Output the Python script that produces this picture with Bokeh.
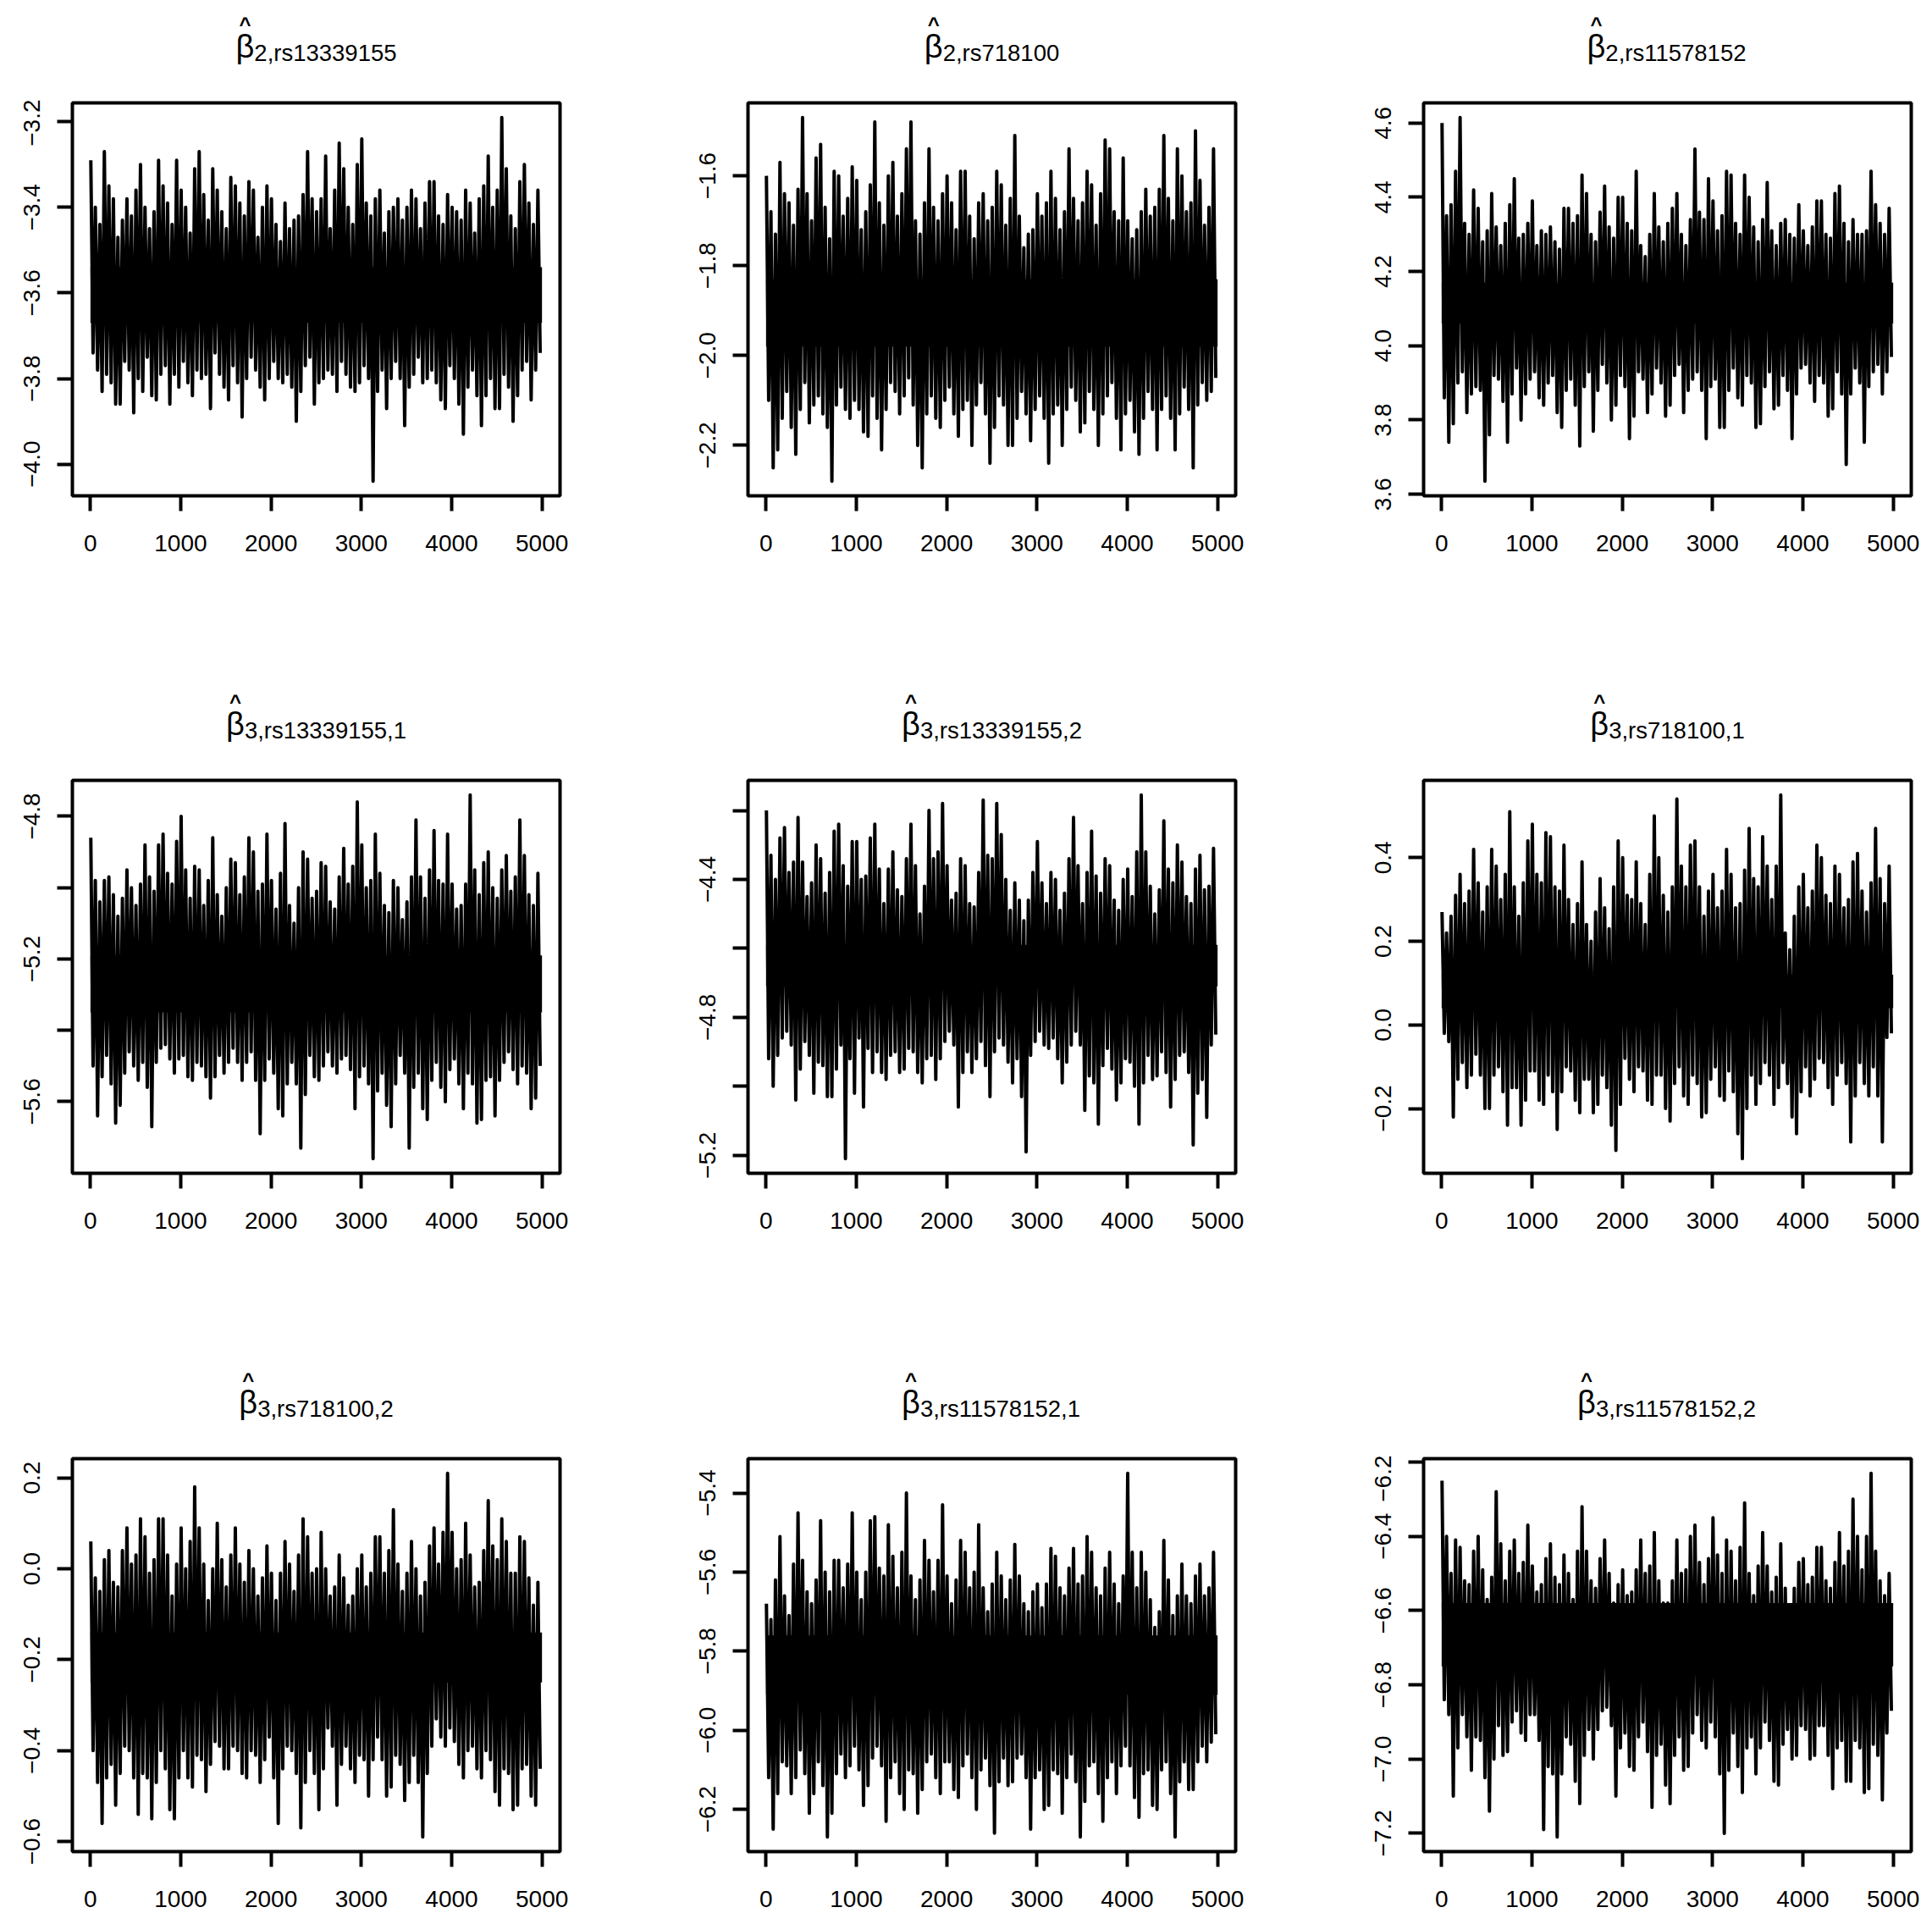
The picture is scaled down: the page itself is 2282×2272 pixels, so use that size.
import numpy as np
from bokeh.plotting import figure
from bokeh.models import Range1d, FixedTicker, CustomJSTickFormatter
from bokeh.layouts import column, row
from bokeh.core.properties import value
from bokeh.embed import file_html
from bokeh.resources import INLINE

# ---------------- data ----------------
n_iter = 5000
block = 100
x_ticks = [0, 1000, 2000, 3000, 4000, 5000]

subscripts = ["2,rs13339155", "2,rs718100", "2,rs11578152",
              "3,rs13339155,1", "3,rs13339155,2", "3,rs718100,1",
              "3,rs718100,2", "3,rs11578152,1", "3,rs11578152,2"]

# per 100-iteration block: largest up / down excursion (hi, lo)
# and a second, smaller excursion in the same block (hi2, lo2)
p1_hi = [-3.29,-3.27,-3.35,-3.43,-3.38,-3.30,-3.40,-3.29,-3.35,-3.29,
         -3.36,-3.31,-3.27,-3.31,-3.36,-3.33,-3.35,-3.34,-3.36,-3.35,
         -3.38,-3.39,-3.45,-3.37,-3.27,-3.38,-3.28,-3.25,-3.31,-3.30,
         -3.24,-3.38,-3.36,-3.40,-3.38,-3.36,-3.38,-3.34,-3.34,-3.37,
         -3.40,-3.36,-3.39,-3.35,-3.28,-3.19,-3.31,-3.34,-3.30,-3.36]
p1_lo = [-3.78,-3.83,-3.86,-3.86,-3.88,-3.80,-3.84,-3.85,-3.86,-3.79,
         -3.81,-3.84,-3.79,-3.87,-3.82,-3.85,-3.89,-3.80,-3.82,-3.85,
         -3.80,-3.81,-3.90,-3.83,-3.86,-3.81,-3.79,-3.83,-3.82,-3.83,
         -3.80,-4.04,-3.87,-3.80,-3.91,-3.82,-3.81,-3.80,-3.85,-3.87,
         -3.86,-3.93,-3.84,-3.91,-3.87,-3.87,-3.90,-3.84,-3.85,-3.78]
p1_hi2 = [-3.40,-3.44,-3.38,-3.47,-3.42,-3.36,-3.45,-3.41,-3.39,-3.44,
          -3.40,-3.46,-3.37,-3.43,-3.41,-3.45,-3.39,-3.42,-3.47,-3.40,
          -3.44,-3.48,-3.43,-3.42,-3.38,-3.41,-3.45,-3.36,-3.40,-3.44,
          -3.39,-3.42,-3.46,-3.41,-3.43,-3.40,-3.45,-3.39,-3.42,-3.44,
          -3.41,-3.43,-3.46,-3.38,-3.40,-3.36,-3.42,-3.45,-3.39,-3.44]
p1_lo2 = [-3.74,-3.79,-3.81,-3.76,-3.78,-3.83,-3.75,-3.79,-3.77,-3.82,
          -3.76,-3.78,-3.80,-3.74,-3.79,-3.77,-3.81,-3.75,-3.78,-3.80,
          -3.76,-3.79,-3.82,-3.77,-3.75,-3.80,-3.78,-3.76,-3.79,-3.81,
          -3.77,-3.83,-3.78,-3.76,-3.80,-3.79,-3.75,-3.78,-3.81,-3.77,
          -3.80,-3.82,-3.78,-3.84,-3.80,-3.79,-3.82,-3.78,-3.76,-3.74]
p1_core = [-3.67, -3.54]

p2_hi = [-1.60,-1.57,-1.64,-1.63,-1.47,-1.56,-1.53,-1.59,-1.60,-1.58,
         -1.61,-1.62,-1.48,-1.60,-1.57,-1.54,-1.48,-1.66,-1.54,-1.64,
         -1.60,-1.59,-1.59,-1.66,-1.64,-1.59,-1.62,-1.51,-1.69,-1.72,
         -1.64,-1.59,-1.65,-1.54,-1.65,-1.59,-1.62,-1.52,-1.54,-1.56,
         -1.70,-1.68,-1.63,-1.63,-1.51,-1.54,-1.60,-1.50,-1.61,-1.54]
p2_lo = [-2.25,-2.21,-2.16,-2.22,-2.15,-2.11,-2.16,-2.28,-2.12,-2.14,
         -2.17,-2.18,-2.21,-2.12,-2.13,-2.09,-2.20,-2.25,-2.14,-2.16,
         -2.13,-2.18,-2.20,-2.11,-2.24,-2.16,-2.20,-2.20,-2.13,-2.19,
         -2.14,-2.24,-2.20,-2.12,-2.17,-2.15,-2.20,-2.13,-2.14,-2.21,
         -2.17,-2.22,-2.12,-2.21,-2.14,-2.21,-2.12,-2.25,-2.10,-2.08]
p2_hi2 = [-1.68,-1.73,-1.66,-1.71,-1.64,-1.70,-1.67,-1.74,-1.69,-1.65,
          -1.72,-1.68,-1.66,-1.71,-1.69,-1.64,-1.70,-1.73,-1.67,-1.70,
          -1.66,-1.72,-1.69,-1.74,-1.70,-1.67,-1.71,-1.65,-1.76,-1.73,
          -1.69,-1.66,-1.72,-1.68,-1.70,-1.66,-1.71,-1.64,-1.68,-1.70,
          -1.74,-1.72,-1.69,-1.67,-1.65,-1.70,-1.68,-1.66,-1.71,-1.67]
p2_lo2 = [-2.10,-2.14,-2.08,-2.12,-2.06,-2.09,-2.13,-2.11,-2.07,-2.10,
          -2.12,-2.09,-2.14,-2.06,-2.08,-2.05,-2.11,-2.13,-2.09,-2.10,
          -2.07,-2.12,-2.10,-2.06,-2.13,-2.09,-2.11,-2.14,-2.08,-2.12,
          -2.09,-2.13,-2.11,-2.07,-2.10,-2.08,-2.12,-2.09,-2.06,-2.13,
          -2.10,-2.14,-2.08,-2.12,-2.09,-2.13,-2.07,-2.11,-2.06,-2.05]
p2_core = [-1.98, -1.83]

p3_hi = [4.60,4.47,4.615,4.42,4.37,4.41,4.32,4.38,4.45,4.33,
         4.39,4.30,4.32,4.37,4.37,4.46,4.41,4.36,4.43,4.40,
         4.40,4.47,4.27,4.41,4.32,4.37,4.41,4.34,4.53,4.45,
         4.39,4.47,4.46,4.46,4.40,4.34,4.44,4.33,4.34,4.38,
         4.31,4.39,4.39,4.41,4.43,4.34,4.30,4.47,4.38,4.37]
p3_lo = [3.74,3.79,3.82,3.87,3.635,3.76,3.85,3.74,3.80,3.87,
         3.86,3.84,3.82,3.78,3.84,3.73,3.77,3.88,3.80,3.84,
         3.75,3.81,3.82,3.87,3.81,3.84,3.82,3.88,3.88,3.75,
         3.78,3.78,3.86,3.84,3.78,3.79,3.83,3.84,3.75,3.87,
         3.90,3.85,3.81,3.83,3.68,3.87,3.74,3.89,3.87,3.93]
p3_hi2 = [4.35,4.38,4.33,4.30,4.28,4.31,4.27,4.33,4.29,4.30,
          4.27,4.31,4.28,4.26,4.33,4.35,4.30,4.28,4.32,4.29,
          4.33,4.31,4.24,4.30,4.28,4.33,4.30,4.27,4.36,4.34,
          4.31,4.35,4.33,4.30,4.32,4.28,4.31,4.27,4.30,4.29,
          4.27,4.32,4.30,4.29,4.33,4.28,4.30,4.31,4.33,4.30]
p3_lo2 = [3.86,3.90,3.93,3.89,3.88,3.92,3.91,3.87,3.94,3.91,
          3.93,3.90,3.92,3.88,3.91,3.89,3.93,3.95,3.90,3.92,
          3.89,3.93,3.91,3.94,3.90,3.92,3.95,3.91,3.93,3.89,
          3.91,3.88,3.94,3.92,3.90,3.89,3.93,3.92,3.88,3.94,
          3.95,3.92,3.90,3.93,3.87,3.94,3.90,3.93,3.95,3.97]
p3_core = [4.06, 4.17]

p4_hi = [-4.86,-4.98,-4.97,-5.03,-4.95,-4.99,-4.88,-4.88,-4.85,-4.87,
         -4.80,-4.94,-4.95,-4.86,-5.02,-4.92,-4.93,-4.86,-4.90,-4.85,
         -4.98,-4.82,-5.05,-4.90,-4.92,-4.93,-4.94,-4.97,-4.89,-4.76,
         -4.88,-4.85,-4.96,-4.98,-5.00,-4.97,-4.81,-4.95,-4.84,-4.85,
         -4.99,-4.99,-4.74,-4.93,-4.90,-4.95,-4.91,-4.81,-4.91,-4.96]
p4_lo = [-5.64,-5.53,-5.66,-5.61,-5.50,-5.54,-5.67,-5.49,-5.48,-5.52,
         -5.53,-5.54,-5.53,-5.59,-5.52,-5.49,-5.54,-5.49,-5.69,-5.54,
         -5.62,-5.64,-5.55,-5.73,-5.53,-5.54,-5.50,-5.52,-5.51,-5.62,
         -5.55,-5.76,-5.61,-5.67,-5.52,-5.73,-5.62,-5.65,-5.56,-5.60,
         -5.55,-5.62,-5.66,-5.65,-5.64,-5.54,-5.51,-5.55,-5.62,-5.59]
p4_hi2 = [-4.98,-5.04,-5.02,-5.08,-5.00,-5.05,-4.97,-5.01,-4.96,-4.99,
          -4.95,-5.03,-5.05,-4.98,-5.08,-5.00,-5.02,-4.97,-5.01,-4.99,
          -5.06,-4.96,-5.10,-5.00,-5.03,-5.01,-5.04,-5.06,-4.99,-4.94,
          -5.00,-4.98,-5.05,-5.07,-5.09,-5.04,-4.97,-5.03,-4.98,-4.99,
          -5.06,-5.05,-4.95,-5.02,-5.00,-5.03,-5.01,-4.97,-5.02,-5.05]
p4_lo2 = [-5.50,-5.47,-5.55,-5.52,-5.46,-5.49,-5.56,-5.45,-5.44,-5.48,
          -5.47,-5.49,-5.50,-5.53,-5.47,-5.45,-5.49,-5.46,-5.54,-5.48,
          -5.52,-5.55,-5.49,-5.58,-5.47,-5.50,-5.46,-5.48,-5.47,-5.53,
          -5.50,-5.57,-5.52,-5.55,-5.47,-5.56,-5.52,-5.54,-5.49,-5.51,
          -5.48,-5.52,-5.55,-5.54,-5.53,-5.49,-5.46,-5.50,-5.52,-5.50]
p4_core = [-5.35, -5.19]

p5_hi = [-4.20,-4.28,-4.25,-4.22,-4.35,-4.30,-4.34,-4.26,-4.24,-4.29,
         -4.29,-4.28,-4.24,-4.37,-4.32,-4.34,-4.24,-4.42,-4.20,-4.18,
         -4.36,-4.34,-4.36,-4.38,-4.17,-4.18,-4.27,-4.41,-4.46,-4.38,
         -4.29,-4.38,-4.40,-4.34,-4.22,-4.38,-4.26,-4.34,-4.36,-4.40,
         -4.37,-4.155,-4.32,-4.43,-4.23,-4.30,-4.35,-4.37,-4.33,-4.31]
p5_lo = [-5.00,-4.91,-4.88,-5.04,-4.91,-5.02,-5.03,-5.03,-5.21,-4.92,
         -5.06,-4.89,-4.96,-4.98,-4.96,-4.95,-4.96,-4.99,-4.98,-4.92,
         -4.88,-5.06,-4.96,-4.92,-5.03,-4.90,-4.93,-4.99,-5.19,-4.91,
         -4.88,-4.89,-4.99,-4.93,-4.88,-5.07,-5.11,-4.94,-5.04,-4.99,
         -5.00,-5.11,-4.98,-4.97,-5.06,-4.98,-4.96,-5.17,-5.09,-4.88]
p5_hi2 = [-4.33,-4.40,-4.38,-4.35,-4.45,-4.41,-4.44,-4.38,-4.36,-4.42,
          -4.40,-4.39,-4.37,-4.47,-4.43,-4.45,-4.36,-4.50,-4.34,-4.32,
          -4.46,-4.44,-4.47,-4.48,-4.33,-4.34,-4.40,-4.49,-4.52,-4.46,
          -4.41,-4.47,-4.49,-4.44,-4.36,-4.47,-4.39,-4.44,-4.46,-4.49,
          -4.45,-4.32,-4.42,-4.50,-4.37,-4.41,-4.45,-4.47,-4.43,-4.42]
p5_lo2 = [-4.92,-4.86,-4.84,-4.95,-4.87,-4.93,-4.94,-4.95,-4.88,-5.02,
          -4.86,-4.96,-4.90,-4.91,-4.90,-4.89,-4.90,-4.92,-4.91,-4.87,
          -4.84,-4.96,-4.90,-4.87,-4.94,-4.86,-4.88,-4.92,-5.03,-4.87,
          -4.84,-4.86,-4.92,-4.88,-4.84,-4.97,-4.99,-4.89,-4.95,-4.92,
          -4.93,-4.99,-4.91,-4.90,-4.96,-4.91,-4.90,-5.02,-4.98,-4.85]
p5_core = [-4.71, -4.59]

p6_hi = [0.27,0.31,0.36,0.42,0.34,0.42,0.38,0.51,0.33,0.44,
         0.48,0.46,0.45,0.43,0.30,0.39,0.24,0.35,0.28,0.44,
         0.40,0.39,0.29,0.50,0.40,0.33,0.54,0.43,0.44,0.32,
         0.36,0.42,0.36,0.37,0.47,0.45,0.38,0.55,0.22,0.33,
         0.36,0.43,0.40,0.38,0.36,0.39,0.41,0.34,0.47,0.38]
p6_lo = [-0.04,-0.22,-0.15,-0.12,-0.20,-0.20,-0.16,-0.24,-0.24,-0.18,
         -0.18,-0.19,-0.25,-0.16,-0.18,-0.21,-0.21,-0.19,-0.24,-0.30,
         -0.13,-0.16,-0.18,-0.19,-0.20,-0.23,-0.17,-0.19,-0.22,-0.21,
         -0.17,-0.18,-0.26,-0.32,-0.19,-0.14,-0.19,-0.15,-0.22,-0.26,
         -0.17,-0.13,-0.15,-0.19,-0.14,-0.28,-0.14,-0.17,-0.28,-0.03]
p6_hi2 = [0.22,0.26,0.29,0.32,0.27,0.33,0.30,0.36,0.26,0.34,
          0.36,0.34,0.33,0.32,0.24,0.29,0.20,0.27,0.23,0.33,
          0.31,0.30,0.24,0.36,0.31,0.27,0.38,0.33,0.33,0.26,
          0.28,0.32,0.28,0.29,0.35,0.33,0.30,0.38,0.18,0.26,
          0.28,0.32,0.31,0.29,0.28,0.30,0.32,0.27,0.35,0.29]
p6_lo2 = [-0.02,-0.13,-0.09,-0.07,-0.12,-0.12,-0.10,-0.15,-0.15,-0.11,
          -0.11,-0.12,-0.16,-0.10,-0.11,-0.13,-0.13,-0.12,-0.15,-0.19,
          -0.08,-0.10,-0.11,-0.12,-0.12,-0.14,-0.10,-0.12,-0.14,-0.13,
          -0.10,-0.11,-0.16,-0.20,-0.12,-0.09,-0.12,-0.09,-0.14,-0.16,
          -0.10,-0.08,-0.09,-0.12,-0.09,-0.17,-0.09,-0.10,-0.17,-0.02]
p6_core = [0.04, 0.12]

p7_hi = [0.06,0.02,0.04,0.04,0.09,0.11,0.07,0.11,0.11,0.01,
         0.09,0.18,0.09,0.00,0.10,0.03,0.09,0.04,0.00,0.05,
         -0.01,0.06,0.01,0.11,0.07,0.08,0.00,0.03,-0.02,0.00,
         0.03,0.07,0.07,0.13,0.01,0.06,0.00,0.05,0.09,0.21,
         0.08,0.10,0.03,0.04,0.15,0.11,0.06,0.07,0.06,-0.03]
p7_lo = [-0.47,-0.56,-0.52,-0.45,-0.46,-0.54,-0.55,-0.47,-0.53,-0.55,
         -0.46,-0.48,-0.49,-0.43,-0.44,-0.44,-0.45,-0.46,-0.47,-0.42,
         -0.56,-0.44,-0.45,-0.57,-0.45,-0.53,-0.39,-0.52,-0.44,-0.47,
         -0.50,-0.42,-0.50,-0.48,-0.51,-0.47,-0.59,-0.45,-0.37,-0.39,
         -0.43,-0.46,-0.44,-0.46,-0.49,-0.52,-0.53,-0.52,-0.50,-0.52]
p7_hi2 = [-0.02,-0.05,-0.03,-0.04,0.01,0.03,-0.01,0.02,0.03,-0.06,
          0.00,0.06,0.01,-0.07,0.02,-0.04,0.01,-0.03,-0.06,-0.02,
          -0.07,-0.01,-0.05,0.03,-0.01,0.00,-0.06,-0.04,-0.08,-0.06,
          -0.04,-0.01,-0.01,0.04,-0.05,-0.01,-0.06,-0.03,0.01,0.08,
          0.00,0.02,-0.04,-0.03,0.05,0.02,-0.01,-0.01,-0.02,-0.08]
p7_lo2 = [-0.40,-0.46,-0.43,-0.39,-0.40,-0.45,-0.46,-0.40,-0.44,-0.46,
          -0.40,-0.41,-0.42,-0.38,-0.39,-0.39,-0.40,-0.40,-0.41,-0.37,
          -0.46,-0.39,-0.40,-0.47,-0.40,-0.44,-0.35,-0.43,-0.39,-0.41,
          -0.42,-0.37,-0.42,-0.41,-0.43,-0.41,-0.47,-0.39,-0.33,-0.35,
          -0.38,-0.40,-0.39,-0.40,-0.42,-0.44,-0.45,-0.44,-0.43,-0.44]
p7_core = [-0.25, -0.14]

p8_hi = [-5.68,-5.51,-5.66,-5.45,-5.57,-5.62,-5.47,-5.57,-5.57,-5.45,
         -5.60,-5.47,-5.46,-5.48,-5.56,-5.40,-5.61,-5.52,-5.57,-5.43,
         -5.61,-5.52,-5.55,-5.48,-5.64,-5.55,-5.61,-5.53,-5.61,-5.65,
         -5.63,-5.54,-5.56,-5.59,-5.54,-5.51,-5.55,-5.59,-5.55,-5.61,
         -5.35,-5.55,-5.60,-5.70,-5.52,-5.66,-5.58,-5.61,-5.58,-5.55]
p8_lo = [-6.25,-6.16,-6.16,-6.12,-6.21,-6.16,-6.27,-6.21,-6.12,-6.09,
         -6.19,-6.14,-6.09,-6.23,-6.16,-6.20,-6.21,-6.15,-6.12,-6.16,
         -6.15,-6.17,-6.12,-6.20,-6.14,-6.26,-6.14,-6.13,-6.12,-6.25,
         -6.20,-6.19,-6.21,-6.12,-6.27,-6.18,-6.16,-6.23,-6.16,-6.09,
         -6.17,-6.22,-6.19,-6.20,-6.16,-6.27,-6.15,-6.15,-6.08,-6.03]
p8_hi2 = [-5.72,-5.62,-5.71,-5.58,-5.65,-5.68,-5.60,-5.65,-5.64,-5.58,
          -5.67,-5.60,-5.59,-5.61,-5.64,-5.55,-5.67,-5.62,-5.65,-5.57,
          -5.68,-5.62,-5.64,-5.60,-5.70,-5.63,-5.67,-5.62,-5.68,-5.70,
          -5.69,-5.63,-5.64,-5.66,-5.63,-5.61,-5.64,-5.66,-5.63,-5.68,
          -5.55,-5.64,-5.67,-5.74,-5.62,-5.71,-5.66,-5.68,-5.66,-5.64]
p8_lo2 = [-6.12,-6.08,-6.09,-6.05,-6.11,-6.08,-6.14,-6.11,-6.06,-6.04,
          -6.10,-6.07,-6.04,-6.12,-6.08,-6.10,-6.11,-6.08,-6.06,-6.08,
          -6.08,-6.09,-6.06,-6.10,-6.07,-6.13,-6.07,-6.07,-6.06,-6.12,
          -6.10,-6.10,-6.11,-6.06,-6.13,-6.09,-6.08,-6.12,-6.08,-6.04,
          -6.09,-6.11,-6.10,-6.10,-6.08,-6.13,-6.08,-6.08,-6.04,-6.01]
p8_core = [-5.91, -5.76]

p9_hi = [-6.25,-6.41,-6.43,-6.44,-6.40,-6.51,-6.28,-6.44,-6.41,-6.37,
         -6.48,-6.46,-6.42,-6.45,-6.50,-6.32,-6.44,-6.46,-6.41,-6.53,
         -6.49,-6.49,-6.41,-6.39,-6.52,-6.52,-6.41,-6.40,-6.37,-6.46,
         -6.35,-6.41,-6.44,-6.31,-6.50,-6.39,-6.48,-6.42,-6.54,-6.47,
         -6.46,-6.43,-6.43,-6.47,-6.39,-6.30,-6.40,-6.23,-6.44,-6.50]
p9_lo = [-6.88,-7.10,-6.94,-7.03,-7.05,-7.14,-6.99,-6.98,-6.93,-6.95,
         -6.95,-7.19,-7.21,-7.04,-7.06,-7.12,-7.00,-6.92,-6.91,-7.10,
         -7.02,-7.03,-6.98,-7.13,-7.07,-7.12,-7.03,-7.02,-6.95,-6.97,
         -7.04,-7.20,-7.02,-7.09,-7.04,-6.97,-7.06,-7.07,-7.00,-6.99,
         -7.00,-6.99,-6.99,-7.08,-7.06,-7.06,-7.09,-7.08,-7.11,-6.93]
p9_hi2 = [-6.40,-6.50,-6.52,-6.53,-6.49,-6.57,-6.42,-6.52,-6.50,-6.47,
          -6.55,-6.53,-6.51,-6.53,-6.57,-6.44,-6.52,-6.54,-6.50,-6.58,
          -6.56,-6.55,-6.50,-6.48,-6.58,-6.58,-6.50,-6.49,-6.47,-6.53,
          -6.45,-6.50,-6.52,-6.43,-6.56,-6.48,-6.55,-6.51,-6.59,-6.54,
          -6.53,-6.51,-6.52,-6.54,-6.48,-6.44,-6.49,-6.40,-6.52,-6.56]
p9_lo2 = [-6.84,-6.97,-6.88,-6.94,-6.95,-7.00,-6.91,-6.90,-6.87,-6.88,
          -6.88,-7.02,-7.04,-6.94,-6.96,-6.99,-6.92,-6.87,-6.86,-6.97,
          -6.93,-6.94,-6.90,-6.99,-6.96,-6.99,-6.94,-6.93,-6.88,-6.90,
          -6.94,-7.03,-6.93,-6.97,-6.94,-6.90,-6.95,-6.96,-6.92,-6.91,
          -6.92,-6.91,-6.91,-6.97,-6.95,-6.95,-6.97,-6.96,-6.99,-6.87]
p9_core = [-6.75, -6.58]

# y-axis ticks and the ticks that carry a label
p1_yticks = [-4.0, -3.8, -3.6, -3.4, -3.2]
p2_yticks = [-2.2, -2.0, -1.8, -1.6]
p3_yticks = [3.6, 3.8, 4.0, 4.2, 4.4, 4.6]
p4_yticks = [-5.6, -5.4, -5.2, -5.0, -4.8]
p4_ylabeled = [-5.6, -5.2, -4.8]
p5_yticks = [-5.2, -5.0, -4.8, -4.6, -4.4, -4.2]
p5_ylabeled = [-5.2, -4.8, -4.4]
p6_yticks = [-0.2, 0.0, 0.2, 0.4]
p7_yticks = [-0.6, -0.4, -0.2, 0.0, 0.2]
p8_yticks = [-6.2, -6.0, -5.8, -5.6, -5.4]
p9_yticks = [-7.2, -7.0, -6.8, -6.6, -6.4, -6.2]

panels = [
    (p1_hi, p1_lo, p1_hi2, p1_lo2, p1_core, p1_yticks, p1_yticks),
    (p2_hi, p2_lo, p2_hi2, p2_lo2, p2_core, p2_yticks, p2_yticks),
    (p3_hi, p3_lo, p3_hi2, p3_lo2, p3_core, p3_yticks, p3_yticks),
    (p4_hi, p4_lo, p4_hi2, p4_lo2, p4_core, p4_yticks, p4_ylabeled),
    (p5_hi, p5_lo, p5_hi2, p5_lo2, p5_core, p5_yticks, p5_ylabeled),
    (p6_hi, p6_lo, p6_hi2, p6_lo2, p6_core, p6_yticks, p6_yticks),
    (p7_hi, p7_lo, p7_hi2, p7_lo2, p7_core, p7_yticks, p7_yticks),
    (p8_hi, p8_lo, p8_hi2, p8_lo2, p8_core, p8_yticks, p8_yticks),
    (p9_hi, p9_lo, p9_hi2, p9_lo2, p9_core, p9_yticks, p9_yticks),
]

# ---------------- layout / style ----------------
FONT = "Liberation Sans"
PAGE_W = 2282
FRAME_W, FRAME_H = 576, 464
col_borders = [(85, 72), (150, 72), (150, 20)]     # left, right
row_borders = [(121, 136), (200, 136), (201, 80)]  # top (incl. title), bottom
TOP_PAD = 4                                        # gap kept above the frame in plot figure
char_w = {c: 0.556 for c in "0123456789"}
char_w.update({",": 0.278, "r": 0.333, "s": 0.5})
BETA_SIZE, SUB_SIZE, HAT_SIZE = 38, 27.5, 24
LW = 4.0

col_widths = [bl + FRAME_W + br for bl, br in col_borders]
col_starts = [sum(col_widths[:k]) for k in range(3)]


def title_strip(r_i):
    """One full-width strip holding the three panel titles of a row."""
    h = row_borders[r_i][0] - TOP_PAD
    t = figure(frame_width=PAGE_W, frame_height=h, x_range=Range1d(0, PAGE_W),
               y_range=Range1d(0, h), output_backend="svg", title=None,
               toolbar_location=None, x_axis_location=None, y_axis_location=None,
               min_border_left=0, min_border_right=0, min_border_top=0,
               min_border_bottom=0)
    t.xgrid.visible = False
    t.ygrid.visible = False
    t.outline_line_color = None
    t.background_fill_color = "white"
    t.border_fill_color = "white"
    base = -TOP_PAD  # y of the frame top in this strip's pixel coordinates
    for c_i in range(3):
        sub = subscripts[3 * r_i + c_i]
        beta_w = 0.575 * BETA_SIZE
        sub_w = sum(char_w[c] for c in sub) * SUB_SIZE
        xc = col_starts[c_i] + col_borders[c_i][0] + FRAME_W / 2
        x0 = xc - (beta_w + sub_w) / 2
        t.text(x=[x0], y=[base + 67], text=["β"], text_font=value(FONT),
               text_font_size=value(f"{BETA_SIZE}px"), text_align="left",
               text_baseline="alphabetic", text_color="black")
        t.text(x=[x0 + beta_w], y=[base + 59], text=[sub], text_font=value(FONT),
               text_font_size=value(f"{SUB_SIZE}px"), text_align="left",
               text_baseline="alphabetic", text_color="black")
        t.text(x=[x0 + beta_w / 2], y=[base + 93], text=["^"], text_font=value(FONT),
               text_font_size=value(f"{HAT_SIZE}px"), text_font_style="bold",
               text_align="center", text_baseline="alphabetic", text_color="black")
    return t


def make_panel(idx, hi, lo, hi2, lo2, core, yticks, ylabeled):
    r_i, c_i = divmod(idx, 3)
    bl, br = col_borders[c_i]
    bt, bb = row_borders[r_i]
    vals = hi + lo + hi2 + lo2
    vmin, vmax = min(vals), max(vals)
    rng = vmax - vmin
    xr = Range1d(1 - 0.04 * (n_iter - 1), n_iter + 0.04 * (n_iter - 1))
    yr = Range1d(vmin - 0.04 * rng, vmax + 0.04 * rng)
    p = figure(width=col_widths[c_i], height=TOP_PAD + FRAME_H + bb,
               x_range=xr, y_range=yr, output_backend="svg",
               toolbar_location=None,
               min_border_left=bl, min_border_right=br,
               min_border_top=TOP_PAD, min_border_bottom=bb)
    p.xgrid.visible = False
    p.ygrid.visible = False
    p.background_fill_color = "white"
    p.border_fill_color = "white"
    p.outline_line_color = "black"
    p.outline_line_width = LW
    p.outline_line_alpha = 1.0

    # trace: within each 100-iteration block visit the two up and two down excursions
    xs, ys = [], []
    for i in range(len(hi)):
        x0 = block * i
        if i % 2 == 0:
            seq = [hi[i], lo2[i], hi2[i], lo[i]]
        else:
            seq = [hi2[i], lo[i], hi[i], lo2[i]]
        xs += [x0 + 5, x0 + 30, x0 + 55, x0 + 80]
        ys += seq
    p.varea(x=[1, n_iter], y1=[core[0], core[0]], y2=[core[1], core[1]],
            fill_color="black", fill_alpha=1.0)
    p.line(xs, ys, line_color="black", line_width=LW, line_join="round")

    for ax in (p.xaxis[0], p.yaxis[0]):
        ax.axis_line_color = None
        ax.major_tick_line_color = "black"
        ax.major_tick_line_width = LW
        ax.major_tick_out = 18
        ax.major_tick_in = 0
        ax.minor_tick_line_color = None
        ax.major_label_text_font = FONT
        ax.major_label_text_font_size = "28px"
        ax.major_label_text_color = "black"
    p.xaxis.ticker = FixedTicker(ticks=x_ticks)
    p.xaxis.formatter = CustomJSTickFormatter(code="return tick.toFixed(0);")
    p.xaxis.major_label_standoff = 28
    p.yaxis.ticker = FixedTicker(ticks=yticks)
    p.yaxis.formatter = CustomJSTickFormatter(
        args=dict(labeled=list(ylabeled)),
        code="""
        const ok = labeled.some(v => Math.abs(v - tick) < 1e-9);
        if (!ok) return "";
        return tick.toFixed(1).replace("-", "\u2212");
        """)
    p.yaxis.major_label_orientation = "vertical"
    p.yaxis.major_label_standoff = 20
    return p


plots = [make_panel(i, *panels[i]) for i in range(9)]
layout = column(title_strip(0), row(*plots[0:3]),
                title_strip(1), row(*plots[3:6]),
                title_strip(2), row(*plots[6:9]))

open("out.html", "w").write(file_html(layout, INLINE))
